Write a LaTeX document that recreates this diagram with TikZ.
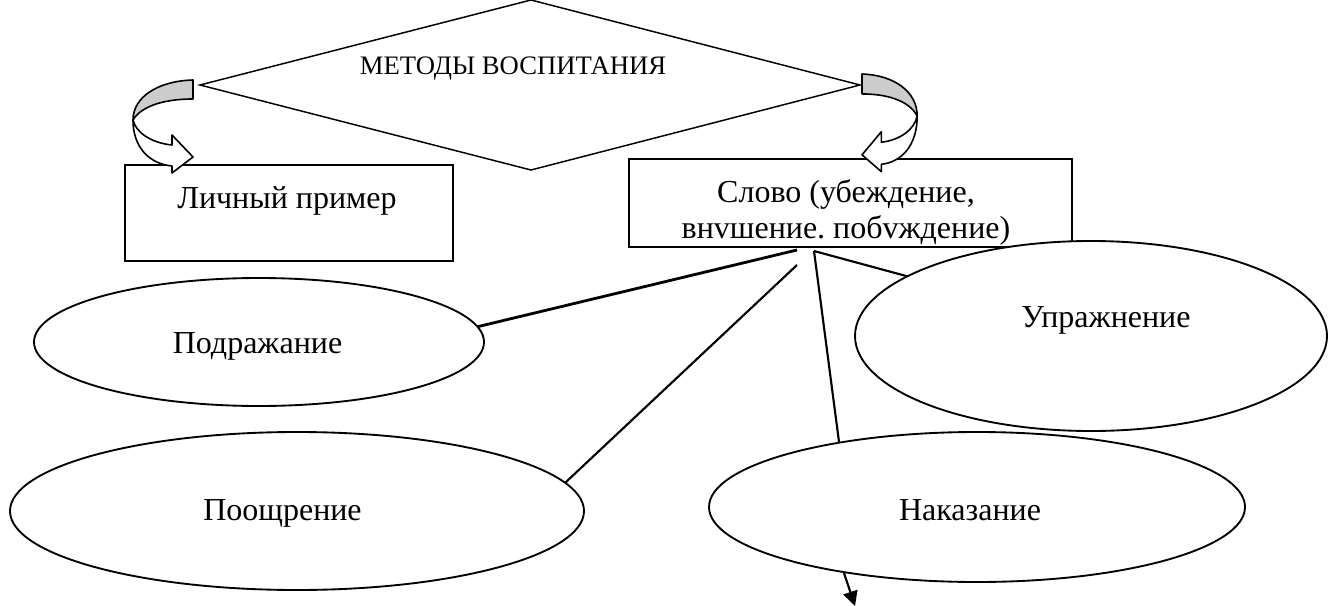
\documentclass[tikz,border=0pt]{standalone}
\usepackage{fontspec}
\setmainfont{Liberation Serif}
\usetikzlibrary{shapes.geometric,arrows.meta}
\frenchspacing
\begin{document}
\begin{tikzpicture}[x=0.75pt,y=-0.75pt,
  outline/.style={draw=black,line width=1.4pt},
  box/.style={outline,rectangle,fill=white,inner sep=0pt,outer sep=0pt},
  oval/.style={outline,ellipse,fill=white,inner sep=0pt,outer sep=0pt},
  caption/.style={inner sep=0pt,anchor=base,font=\fontsize{24}{27}\selectfont},
  link/.style={line width=1.6pt},
  bentarrow/.pic={
    \filldraw[line width=1.2pt,line join=round,fill=black!20]
      (0,0) .. controls (-35,1) and (-60,17) .. (-60,40)
      .. controls (-53,28) and (-33,19) .. (0,19) -- cycle;
    \filldraw[line width=1.2pt,line join=round,fill=white]
      (-60,40) .. controls (-60,68) and (-43,84) .. (-21,86)
      -- (-21,93) -- (0,77) -- (-21,55) -- (-21,65)
      .. controls (-41,63) and (-57,53) .. (-60,40) -- cycle;
  }]
\useasboundingbox (0,0) rectangle (1330,606);

% title diamond
\coordinate (dt) at (531,0);
\coordinate (dr) at (860,85);
\coordinate (db) at (531,170);
\coordinate (dl) at (200,85);
\draw[draw=black,line width=1.1pt] (dt) -- (dr) -- (db) -- (dl) -- cycle;
\node[caption,font=\fontsize{20}{24}\selectfont] (title) at (513,75) {МЕТОДЫ ВОСПИТАНИЯ};

% boxes
\node[box,minimum width=246pt,minimum height=72pt] (personal) at (289,213) {};
\node[caption] (personaltext) at (287,208) {Личный пример};
\node[box,minimum width=332pt,minimum height=66pt] (word) at (850.5,203) {};
\node[inner sep=0pt,align=center,font=\fontsize{24}{27}\selectfont] (wordtext) at (846,212)
  {Слово (убеждение,\\внvшение. побvждение)};

% ovals
\node[oval,minimum width=337.5pt,minimum height=96pt] (imitation) at (259,342) {};
\node[oval,minimum width=354pt,minimum height=142.5pt] (exercise) at (1091,336) {};
\node[oval,minimum width=430.5pt,minimum height=118.5pt] (reward) at (297,511) {};
\node[oval,minimum width=402pt,minimum height=112.5pt] (punish) at (977,507) {};
\node[caption] (imitationtext) at (257.5,353) {Подражание};
\node[caption] (exercisetext) at (1106,327) {Упражнение};
\node[caption] (rewardtext) at (282.5,520) {Поощрение};
\node[caption] (punishtext) at (970,520) {Наказание};

% connectors
\coordinate (s1) at (797,250);
\coordinate (s2) at (797,265);
\coordinate (s3) at (814,251);
\coordinate (arrowend) at (855,606);
\draw[link,line width=2.1pt] (s1) -- (imitation.4);
\draw[link] (s2) -- (reward.6);
\draw[link] (s3) -- (punish.155);
\draw[link] (s3) -- (exercise.162);
\draw[link,-{Triangle[length=11pt,width=11pt]}] (punish.206) -- (arrowend);

% bent block arrows from the diamond
\pic at (193,80) {bentarrow};
\pic[xscale=-0.92,yscale=1.05] at (862,74) {bentarrow};
\end{tikzpicture}
\end{document}
